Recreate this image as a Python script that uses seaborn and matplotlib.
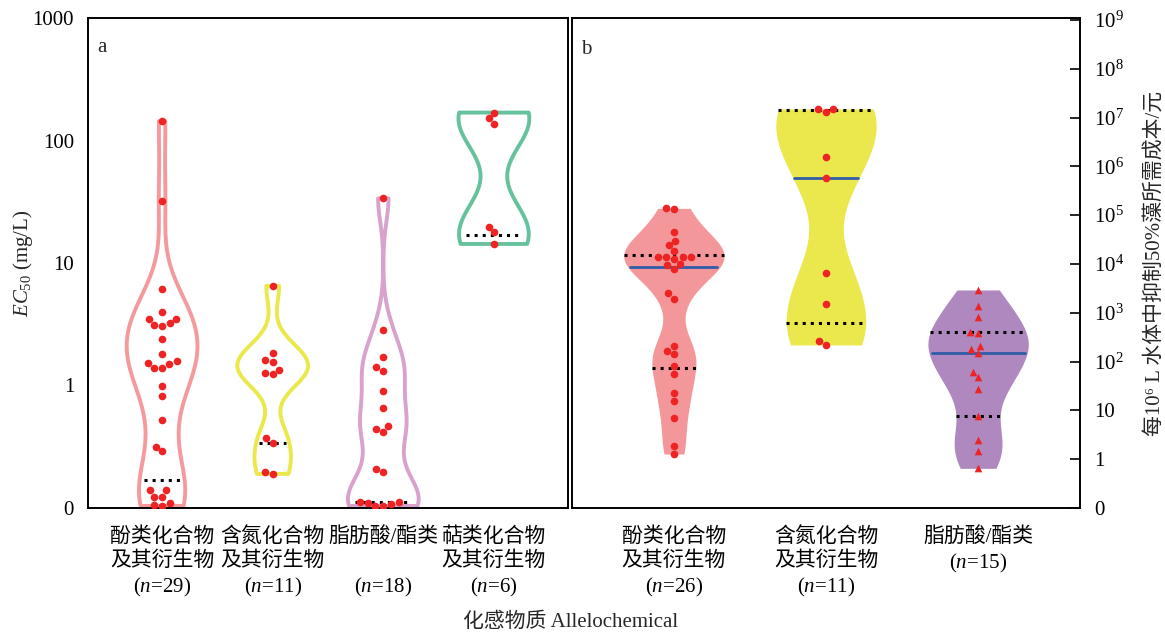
import numpy as np
import pandas as pd
import matplotlib
matplotlib.use("Agg")
import matplotlib.pyplot as plt
import seaborn as sns

# panel a: EC50 (mg/L)
labels_a = ["酚类化合物\n及其衍生物\n($n$=29)", "含氮化合物\n及其衍生物\n($n$=11)",
            "脂肪酸/酯类\n \n($n$=18)", "萜类化合物\n及其衍生物\n($n$=6)"]
phenol_a = [144, 32, 6.1, 3.96, 3.49, 3.49, 3.22, 3.08, 3.13, 2.40, 1.81, 1.58, 1.52, 1.50,
            1.40, 1.40, 0.99, 0.82, 0.52, 0.315, 0.29, 0.14, 0.14, 0.124, 0.124, 0.109, 0.106, 0.104]
nitrogen_a = [6.5, 1.85, 1.61, 1.55, 1.34, 1.27, 1.24, 0.37, 0.34, 0.198, 0.19]
fatty_a = [33.7, 2.84, 1.72, 1.42, 1.32, 0.91, 0.65, 0.47, 0.44, 0.42, 0.21, 0.197,
           0.112, 0.112, 0.110, 0.108, 0.104, 0.104]
terpene_a = [169, 152, 136, 19.8, 17.8, 14.3]
dotted_a = [0.17, 0.34, 0.112, 16.8]
colors_a = ["#F49A9C", "#EAE84A", "#D8A2CC", "#66C29D"]
bw_a = [0.7, 0.55, 0.5, 0.7]

# panel b: cost per 1e6 L water (yuan)
labels_b = ["酚类化合物\n及其衍生物\n($n$=26)", "含氮化合物\n及其衍生物\n($n$=11)", "脂肪酸/酯类\n($n$=15)"]
phenol_b = [1.38e5, 1.34e5, 4.6e4, 3.0e4, 2.45e4, 1.87e4, 1.41e4, 1.37e4, 1.37e4, 1.41e4, 1.27e4,
            9.5e3, 9.9e3, 7.8e3, 2.5e3, 1.92e3, 212, 167, 143, 82, 56, 22.8, 15.3, 6.9, 1.9, 1.28]
nitrogen_b = [1.5e7, 1.48e7, 1.32e7, 1.58e6, 5.86e5, 6.5e3, 1.49e3, 219, 268]
fatty_b = [2930, 1377, 832, 410, 380, 209, 179, 148, 62, 47.6, 27, 7.7, 2.47, 1.49, 0.65]
quart_lo_b = [74, 627, 7.7]
quart_hi_b = [1.5e4, 1.41e7, 410]
median_b = [8.55e3, 5.86e5, 148]
colors_b = ["#F4979A", "#EAE84C", "#AE88BE"]
bw_b = [0.55, 0.6, 0.7]

red = "#EE2424"

sns.set_style("white")
plt.rcParams["font.family"] = ["Liberation Serif", "Noto Sans CJK SC"]
plt.rcParams["mathtext.fontset"] = "custom"
plt.rcParams["mathtext.rm"] = "Liberation Serif"
plt.rcParams["mathtext.it"] = "Liberation Serif:italic"
plt.rcParams["axes.unicode_minus"] = False


def make_df(labels, groups):
    rows = []
    for lab, vals in zip(labels, groups):
        for v in vals:
            rows.append((lab, np.log10(v)))
    return pd.DataFrame(rows, columns=["cat", "logv"])


def span_at(coll, y0, shrink=1.0):
    # horizontal extent of a violin polygon at height y0
    v = coll.get_paths()[0].vertices
    y0 = np.clip(y0, v[:, 1].min() + 1e-3, v[:, 1].max() - 1e-3)
    xs = []
    for (x1, y1), (x2, y2) in zip(v[:-1], v[1:]):
        if (y1 - y0) * (y2 - y0) <= 0 and y1 != y2:
            xs.append(x1 + (y0 - y1) * (x2 - x1) / (y2 - y1))
    lo, hi = min(xs), max(xs)
    c = (lo + hi) / 2
    return c - (c - lo) * shrink, c + (hi - c) * shrink


def violins(ax, df, labels, colors, bws, width, fill):
    polys = []
    for lab, col, bw in zip(labels, colors, bws):
        sub = df[df["cat"] == lab]
        if fill:
            sns.violinplot(data=sub, x="cat", y="logv", order=labels, color=col, saturation=1,
                           inner=None, cut=0, density_norm="width", width=width, linewidth=0,
                           bw_adjust=bw, ax=ax)
        else:
            sns.violinplot(data=sub, x="cat", y="logv", order=labels, color=col, saturation=1,
                           fill=False, inner=None, cut=0, density_norm="width", width=width,
                           linewidth=2.8, bw_adjust=bw, ax=ax)
        polys.append(ax.collections[-1])
    return polys


fig = plt.figure(figsize=(11.65, 6.33), dpi=100)
ax1 = fig.add_axes([88 / 1165, 125 / 633, 480 / 1165, 490 / 633])
ax2 = fig.add_axes([572 / 1165, 125 / 633, 508 / 1165, 490 / 633])

# ---- panel a
df_a = make_df(labels_a, [phenol_a, nitrogen_a, fatty_a, terpene_a])
polys = violins(ax1, df_a, labels_a, colors_a, bw_a, 0.64, False)
for poly, q in zip(polys, dotted_a):
    lo, hi = span_at(poly, np.log10(q), 0.8)
    ax1.plot([lo, hi], [np.log10(q)] * 2, color="black", ls=":", lw=2.2, zorder=2.5)
sns.swarmplot(data=df_a, x="cat", y="logv", order=labels_a, color=red, size=5.5,
              linewidth=0, ax=ax1, zorder=3)

ax1.set_xlim(-0.67, 3.67)
ax1.set_ylim(-1, 3)
ax1.set_yticks([-1, 0, 1, 2, 3])
ax1.set_yticklabels(["0", "1", "10", "100", "1000"])
ax1.set_xlabel("")
ax1.set_ylabel("$EC_{50}$ (mg/L)", fontsize=15, labelpad=-2)
ax1.text(0.019, 0.94, "a", transform=ax1.transAxes, fontsize=15, va="center")

# ---- panel b
df_b = make_df(labels_b, [phenol_b, nitrogen_b, fatty_b])
polys = violins(ax2, df_b, labels_b, colors_b, bw_b, 0.66, True)
for poly, lo_q, hi_q, med in zip(polys, quart_lo_b, quart_hi_b, median_b):
    for q in (lo_q, hi_q):
        a, b = span_at(poly, np.log10(q))
        ax2.plot([a, b], [np.log10(q)] * 2, color="black", ls=":", lw=2.2, zorder=2.5)
    a, b = span_at(poly, np.log10(med), 0.95)
    ax2.plot([a, b], [np.log10(med)] * 2, color="#2F5DA8", lw=2, zorder=2.5)

circ = df_b[df_b["cat"] != labels_b[2]]
tri = df_b[df_b["cat"] == labels_b[2]]
sns.swarmplot(data=circ, x="cat", y="logv", order=labels_b, color=red, size=5.5,
              linewidth=0, ax=ax2, zorder=3)
sns.swarmplot(data=tri, x="cat", y="logv", order=labels_b, color=red, size=5.5, marker="^",
              linewidth=0, ax=ax2, zorder=3)

ax2.set_xlim(-0.67, 2.67)
ax2.set_ylim(-1, 9.04)
ax2.yaxis.tick_right()
ax2.yaxis.set_label_position("right")
ax2.set_yticks(range(-1, 10))
ax2.set_yticklabels(["0", "1", "10"] + ["$10^{%d}$" % k for k in range(2, 10)])
ax2.set_xlabel("")
ax2.set_ylabel("每10⁶ L 水体中抑制50%藻所需成本/元", fontsize=15, labelpad=15)
ax2.text(0.018, 0.935, "b", transform=ax2.transAxes, fontsize=15, va="center")

for ax in (ax1, ax2):
    for s in ax.spines.values():
        s.set_visible(True)
        s.set_color("black")
        s.set_linewidth(1.4)
    ax.tick_params(direction="in", length=7, width=1.2, colors="black", labelsize=15)
    ax.tick_params(axis="x", pad=14)
    ax.tick_params(axis="y", pad=10)
    for t in ax.get_xticklabels():
        t.set_linespacing(1.3)

fig.text(571 / 1165, 1 - 622 / 633, "化感物质 Allelochemical", fontsize=15, ha="center", va="center")

fig.savefig("out.png", dpi=100)
